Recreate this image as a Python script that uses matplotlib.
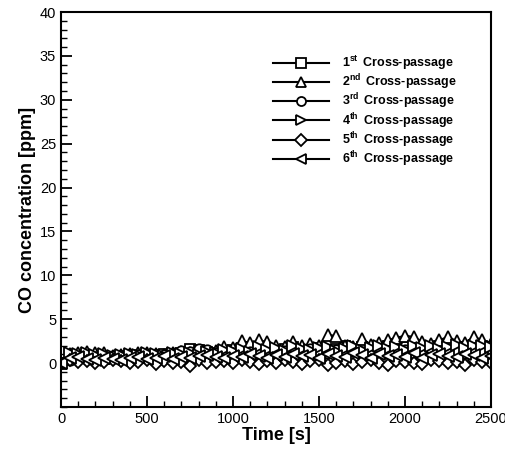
import matplotlib
matplotlib.use("Agg")
import matplotlib.pyplot as plt
from matplotlib.ticker import MultipleLocator

plt.rcParams['font.family'] = ['Liberation Sans', 'DejaVu Sans']
plt.rcParams['mathtext.fontset'] = 'custom'
plt.rcParams['mathtext.rm'] = 'Liberation Sans:bold'
plt.rcParams['mathtext.bf'] = 'Liberation Sans:bold'
plt.rcParams['mathtext.it'] = 'Liberation Sans:bold'

time_s = list(range(0, 2501, 50))

cp1 = [0,0.5,0.6,0.8,0.7,0.5,0.6,0.8,0.9,0.7,0.8,0.9,1.0,0.9,1.2,1.6,1.5,1.3,1.2,1.4,1.5,1.7,1.8,1.6,1.5,1.3,1.6,1.8,1.5,1.4,1.7,1.2,1.6,1.9,1.5,1.8,1.4,1.7,1.9,1.6,1.8,2.0,1.7,1.5,1.9,2.0,1.8,1.6,2.1,1.9,1.8]
cp2 = [0,1.0,1.2,1.3,1.1,1.2,0.8,0.9,1.0,1.1,1.2,1.0,0.9,1.1,1.3,1.2,1.0,1.1,1.4,1.8,1.7,2.5,2.3,2.6,2.4,2.0,1.8,2.4,1.9,2.2,2.0,3.2,3.1,2.0,1.8,2.8,2.1,2.3,2.6,2.9,3.1,3.0,2.4,2.2,2.6,3.0,2.5,2.3,3.0,2.6,2.2]
cp3 = [0,0.4,0.6,0.5,0.7,0.6,0.8,0.7,0.6,0.9,0.8,0.7,0.9,1.0,1.4,1.3,1.6,1.5,1.1,1.0,1.2,1.1,1.3,1.5,1.0,1.2,1.4,1.5,1.2,1.6,1.3,1.1,1.5,1.2,1.4,1.3,1.0,1.6,1.2,1.4,1.5,1.1,1.3,1.6,1.2,1.5,1.4,1.1,1.6,1.3,1.2]
cp4 = [0,1.2,1.0,1.1,0.9,1.0,0.8,0.9,1.0,0.9,1.1,1.0,0.8,1.2,1.0,1.1,0.9,1.3,1.2,1.5,1.4,1.6,1.3,1.8,1.5,1.7,1.4,1.9,1.6,1.5,1.7,1.8,1.4,1.6,2.0,1.5,1.7,1.9,1.6,1.8,1.5,2.0,1.7,1.9,1.6,1.8,2.1,1.7,1.9,2.0,1.8]
cp5 = [0,0.3,0.1,0.2,0.0,0.1,0.3,0.2,0.0,0.1,0.3,-0.1,0.2,0.0,0.1,-0.3,0.3,0.0,0.1,0.2,0.0,0.3,0.1,-0.1,0.2,0.0,0.3,0.1,-0.1,0.2,0.3,-0.2,0.0,0.2,-0.1,0.1,0.3,0.0,-0.2,0.2,0.1,0.0,-0.1,0.3,0.2,0.0,0.1,-0.2,0.3,0.1,0.0]
cp6 = [0,0.6,0.7,0.5,0.4,0.6,0.5,0.4,0.6,0.7,0.5,0.6,0.8,0.5,0.7,0.6,0.8,0.9,0.7,0.6,0.8,0.7,1.0,0.8,0.6,0.9,0.7,1.0,0.8,0.9,0.6,1.0,0.8,0.7,1.1,0.9,0.6,1.0,0.8,0.9,0.7,1.1,0.6,0.9,1.0,0.8,0.7,1.0,0.9,0.6,0.8]

series = [cp1, cp2, cp3, cp4, cp5, cp6]
labels = [r'1$^{\mathrm{st}}\,$ Cross-passage', r'2$^{\mathrm{nd}}\,$ Cross-passage',
          r'3$^{\mathrm{rd}}\,$ Cross-passage', r'4$^{\mathrm{th}}\,$ Cross-passage',
          r'5$^{\mathrm{th}}\,$ Cross-passage', r'6$^{\mathrm{th}}\,$ Cross-passage']
markers = ['s', '^', 'o', '>', 'D', '<']
msizes = [7, 8, 7.5, 8, 6, 8]

fig = plt.figure(figsize=(5.06, 4.5), dpi=100)
ax = fig.add_axes([0.1206, 0.0956, 0.8497, 0.8777])

for y, lab, m, ms in zip(series, labels, markers, msizes):
    ax.plot(time_s, y, color='black', lw=1.5, marker=m, ms=ms,
            mfc='white', mec='black', mew=1.3, label=lab)

ax.set_xlim(0, 2500)
ax.set_ylim(-5, 40)
ax.xaxis.set_major_locator(MultipleLocator(500))
ax.xaxis.set_minor_locator(MultipleLocator(100))
ax.yaxis.set_minor_locator(MultipleLocator(1))
ax.set_yticks([0, 5, 10, 15, 20, 25, 30, 35, 40])
ax.tick_params(which='major', direction='in', length=8, width=1.3, labelsize=10.5)
ax.tick_params(which='minor', direction='in', length=4, width=1)
for s in ax.spines.values():
    s.set_linewidth(1.5)

ax.set_xlabel('Time [s]', fontsize=13, fontweight='bold', labelpad=1)
ax.set_ylabel('CO concentration [ppm]', fontsize=13, fontweight='bold', labelpad=3)

leg = ax.legend(loc='upper left', bbox_to_anchor=(0.493, 0.893), frameon=False,
                prop={'size': 9, 'weight': 'bold'}, handlelength=4.5, numpoints=1,
                labelspacing=-0.02, handletextpad=1.0, borderpad=0, borderaxespad=0)
for h in leg.legend_handles:
    h.set_markersize(6.5)

fig.savefig('out.png', dpi=100)
